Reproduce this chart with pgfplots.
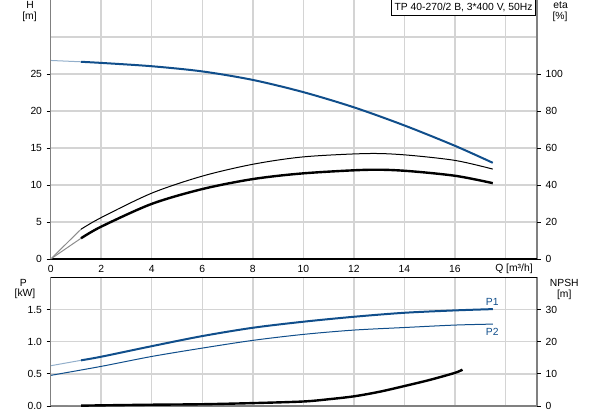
\documentclass[border=0pt]{standalone}
\usepackage{fontspec}
\setmainfont{Liberation Sans}
\usepackage{pgfplots}
\pgfplotsset{compat=1.18}
\definecolor{gblue}{RGB}{16,78,139}
\definecolor{gridc}{RGB}{212,212,212}
\definecolor{spine}{RGB}{128,128,128}
\newcommand{\fs}{\fontsize{7.75}{9}\selectfont}
\pgfplotsset{
  base/.style={
    scale only axis, anchor=south west, clip=false,
    xmin=0, xmax=19.25, xtick={0,2,...,18},
    axis line style={draw=none},
    tick align=outside, major tick length=3pt,
    tick style={black, line width=0.6pt},
    xtick style={draw=none},
    font=\fs, tick label style={font=\fs},
    /pgf/number format/assume math mode=true,
    major grid style={gridc, line width=1.1pt},
  },
  thickc/.style={line width=1.5pt, smooth},
  thinc/.style={line width=0.75pt, smooth},
}
\begin{document}
\begin{tikzpicture}
\path[use as bounding box] (0,0) rectangle (444.75pt,311.25pt);
% ---------------- top: H ----------------
\begin{axis}[base, at={(38.03pt,117pt)}, width=364.7pt, height=194.25pt,
  ymin=0, ymax=35, ytick={0,5,...,25},
  xticklabels={0,2,4,6,8,10,12,14,16,{}},
  extra y ticks={30}, extra y tick labels={}, extra y tick style={major tick length=0pt, grid=major},
  xmajorgrids, ymajorgrids, ytick pos=left, xtick pos=bottom,
  xticklabel style={yshift=1.5pt}]
\addplot[gblue!45, thinc] coordinates {(0,26.83) (1.2,26.65)};
\addplot[gblue, thickc] coordinates {(1.2,26.65) (2,26.5) (4,26.05) (6,25.35) (8,24.2) (10,22.55) (12,20.5) (14,18.05) (16,15.3) (17.5,13.0)};
\draw[spine, line width=1.1pt] (rel axis cs:0,0) -- (rel axis cs:0,1.02);
\draw[spine, line width=1.1pt] (rel axis cs:1,0) -- (rel axis cs:1,1.02);
\draw[black, line width=1.1pt] (rel axis cs:0,0) -- (rel axis cs:1,0);
\end{axis}
\begin{axis}[base, at={(38.03pt,117pt)}, width=364.7pt, height=194.25pt,
  ymin=0, ymax=140, ytick={0,20,...,100}, hide x axis,
  ytick pos=right, yticklabel pos=right]
\addplot[black!45, thinc] coordinates {(0,0) (1.2,16.1)};
\addplot[black!45, thinc] coordinates {(0,0) (1.2,11.2)};
\addplot[black, thinc] coordinates {(1.2,16.1) (2,22.4) (4,35.6) (6,44.8) (8,51.2) (10,55.2) (12.5,57.0) (14,56.3) (16,53.3) (17.5,48.6)};
\addplot[black, line width=1.8pt, smooth] coordinates {(1.2,11.2) (2,17.5) (4,29.8) (6,37.8) (8,43.2) (10,46.3) (12.5,48.2) (14,47.7) (16,45.0) (17.5,41.0)};
\end{axis}
% ---------------- bottom: P / NPSH ----------------
\begin{axis}[base, at={(38.03pt,6.75pt)}, width=364.7pt, height=96.5pt,
  ymin=0, ymax=2, ytick={0,0.5,1,1.5}, xticklabels={},
  xmajorgrids, ymajorgrids, ytick pos=left, xtick pos=bottom,
  yticklabel style={/pgf/number format/.cd, fixed, fixed zerofill, precision=1}]
\addplot[gblue!45, thinc] coordinates {(0,0.626) (1.2,0.71)};
\addplot[gblue, thickc] coordinates {(1.2,0.71) (2,0.766) (4,0.93) (6,1.087) (8,1.216) (10,1.31) (12,1.387) (14,1.449) (16,1.486) (17.5,1.506)};
\addplot[gblue, thinc] coordinates {(0,0.476) (2,0.616) (4,0.77) (6,0.90) (8,1.02) (10,1.113) (12,1.18) (14,1.22) (16,1.258) (17.5,1.273)};
\draw[spine, line width=1.1pt] (rel axis cs:0,0) -- (rel axis cs:0,1);
\draw[spine, line width=1.1pt] (rel axis cs:1,0) -- (rel axis cs:1,1);
\draw[spine, line width=1.1pt] (rel axis cs:0,0) -- (rel axis cs:1,0);
\draw[black, line width=1.1pt] (rel axis cs:0,1) -- (rel axis cs:1,1);
\end{axis}
\begin{axis}[base, at={(38.03pt,6.75pt)}, width=364.7pt, height=96.5pt,
  ymin=0, ymax=40, ytick={0,10,20,30}, hide x axis,
  ytick pos=right, yticklabel pos=right]
\addplot[black!45, thinc] coordinates {(0,0.05) (1.2,0.1)};
\addplot[black, line width=1.8pt, smooth] coordinates {(1.2,0.1) (2,0.2) (4,0.4) (6,0.55) (8,0.9) (10,1.4) (11,2.1) (12,3.0) (13,4.4) (14,6.2) (15,8.1) (16,10.3) (16.3,11.3)};
\end{axis}
% ---------------- labels ----------------
\node[font=\fs] at (22.5pt,307.5pt) {H};
\node[font=\fs] at (22.1pt,298.7pt) {[m]};
\node[font=\fs] at (420.5pt,307.5pt) {eta};
\node[font=\fs] at (420pt,298.7pt) {[\%]};
\node[font=\fs] at (385.5pt,110pt) {Q [m³/h]};
\node[font=\fs] at (17.5pt,99pt) {P};
\node[font=\fs] at (18.75pt,90.75pt) {[kW]};
\node[font=\fs] at (423.2pt,99pt) {NPSH};
\node[font=\fs] at (423.2pt,90.5pt) {[m]};
\node[font=\fs, text=gblue] at (369.2pt,84.5pt) {P1};
\node[font=\fs, text=gblue] at (369.2pt,62pt) {P2};
\node[font=\fs, draw=black, line width=0.6pt, fill=white, inner xsep=2.25pt, inner ysep=0pt, minimum height=12pt, anchor=north east] at (402pt,312pt) {TP 40-270/2 B, 3*400 V, 50Hz};
\end{tikzpicture}
\end{document}
